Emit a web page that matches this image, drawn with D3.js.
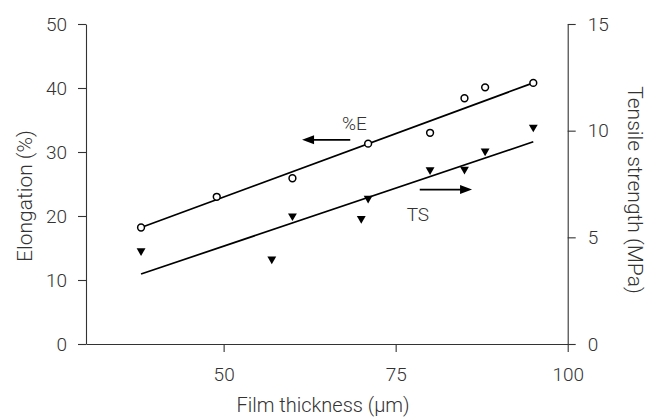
<!DOCTYPE html>
<html><head><meta charset="utf-8">
<script src="https://cdn.jsdelivr.net/npm/d3@7"></script>
<style>
html,body{margin:0;padding:0;background:#fff;}
svg text{font-family:Roboto,"Liberation Sans",sans-serif;font-weight:300;fill:#333;}
</style></head><body>
<svg id="c" width="646" height="418"></svg>
<script>
// ---- data ----
const thicknessE = [38, 49, 60, 71, 80, 85, 88, 95];
const elongation = [18.2, 23.0, 25.9, 31.3, 33.0, 38.4, 40.1, 40.8];
const thicknessTS = [38, 57, 60, 70, 71, 80, 85, 88, 95];
const tensile = [4.37, 3.98, 6.0, 5.88, 6.83, 8.16, 8.19, 9.04, 10.16];
const fitX = [38, 95];
const fitE = [18.2, 40.8];      // %E regression line ends (left axis)
const fitTS = [3.28, 9.48];     // TS regression line ends (right axis)
const xTicks = [50, 75, 100];
const yLeftTicks = [0, 10, 20, 30, 40, 50];
const yRightTicks = [0, 5, 10, 15];
const xTitle = "Film thickness (μm)";
const yLeftTitle = "Elongation (%)";
const yRightTitle = "Tensile strength (MPa)";

const svg = d3.select("#c");
const m = {l: 86, r: 567.7, t: 24, b: 344};
const x = d3.scaleLinear().domain([30, 100]).range([m.l, m.r]);
const yL = d3.scaleLinear().domain([0, 50]).range([m.b, m.t]);
const yR = d3.scaleLinear().domain([0, 15]).range([m.b, m.t]);
const FS = 19;

function styleAxis(g) {
  g.selectAll("path.domain").attr("stroke", "#333").attr("stroke-width", 1.1);
  g.selectAll(".tick line").attr("stroke", "#333").attr("stroke-width", 1.1);
  g.selectAll(".tick text").attr("font-size", FS).attr("font-family", null).attr("fill", "#333");
}

svg.append("g").attr("transform", `translate(0,${m.b})`)
  .call(d3.axisBottom(x).tickValues(xTicks).tickSize(8).tickPadding(16).tickSizeOuter(0))
  .call(styleAxis);
svg.append("g").attr("transform", `translate(${m.l},0)`)
  .call(d3.axisLeft(yL).tickValues(yLeftTicks).tickSize(8).tickPadding(11).tickSizeOuter(0))
  .call(styleAxis);
svg.append("g").attr("transform", `translate(${m.r},0)`)
  .call(d3.axisRight(yR).tickValues(yRightTicks).tickSize(8).tickPadding(12).tickSizeOuter(0))
  .call(styleAxis);

// titles
svg.append("text").attr("x", 323).attr("y", 412).attr("text-anchor", "middle")
  .attr("font-size", 20).text(xTitle);
svg.append("text").attr("transform", "translate(32,196) rotate(-90)").attr("text-anchor", "middle")
  .attr("font-size", 21).text(yLeftTitle);
svg.append("text").attr("transform", "translate(628,190) rotate(90)").attr("text-anchor", "middle")
  .attr("font-size", 21).text(yRightTitle);

// regression lines
const line = d3.line();
svg.append("path").attr("d", line(fitX.map((v, i) => [x(v), yL(fitE[i])])))
  .attr("stroke", "#000").attr("stroke-width", 1.7).attr("fill", "none");
svg.append("path").attr("d", line(fitX.map((v, i) => [x(v), yR(fitTS[i])])))
  .attr("stroke", "#000").attr("stroke-width", 1.7).attr("fill", "none");

// TS points (filled down triangles)
svg.append("g").selectAll("path").data(thicknessTS.map((v, i) => [v, tensile[i]])).join("path")
  .attr("d", d3.symbol(d3.symbolTriangle, 34))
  .attr("transform", d => `translate(${x(d[0])},${yR(d[1])}) rotate(180)`)
  .attr("fill", "#000");

// %E points (open circles)
svg.append("g").selectAll("circle").data(thicknessE.map((v, i) => [v, elongation[i]])).join("circle")
  .attr("cx", d => x(d[0])).attr("cy", d => yL(d[1])).attr("r", 3.4)
  .attr("fill", "#fff").attr("stroke", "#000").attr("stroke-width", 1.5);

// annotations (in data units)
function arrow(x1, x2, yy) {
  const dir = Math.sign(x2 - x1);
  svg.append("line").attr("x1", x1).attr("x2", x2 - dir * 8).attr("y1", yy).attr("y2", yy)
    .attr("stroke", "#000").attr("stroke-width", 1.7);
  svg.append("path").attr("d", `M${x2},${yy}L${x2 - dir * 12},${yy - 4.5}L${x2 - dir * 12},${yy + 4.5}Z`)
    .attr("fill", "#000");
}
arrow(x(68.4), x(61.4), yL(31.9));
svg.append("text").attr("x", x(67.2)).attr("y", yL(33.4)).attr("font-size", FS).text("%E");
arrow(x(78.5), x(86.1), yR(7.24));
svg.append("text").attr("x", x(76.6)).attr("y", yR(5.77)).attr("font-size", FS).text("TS");
</script>
</body></html>
